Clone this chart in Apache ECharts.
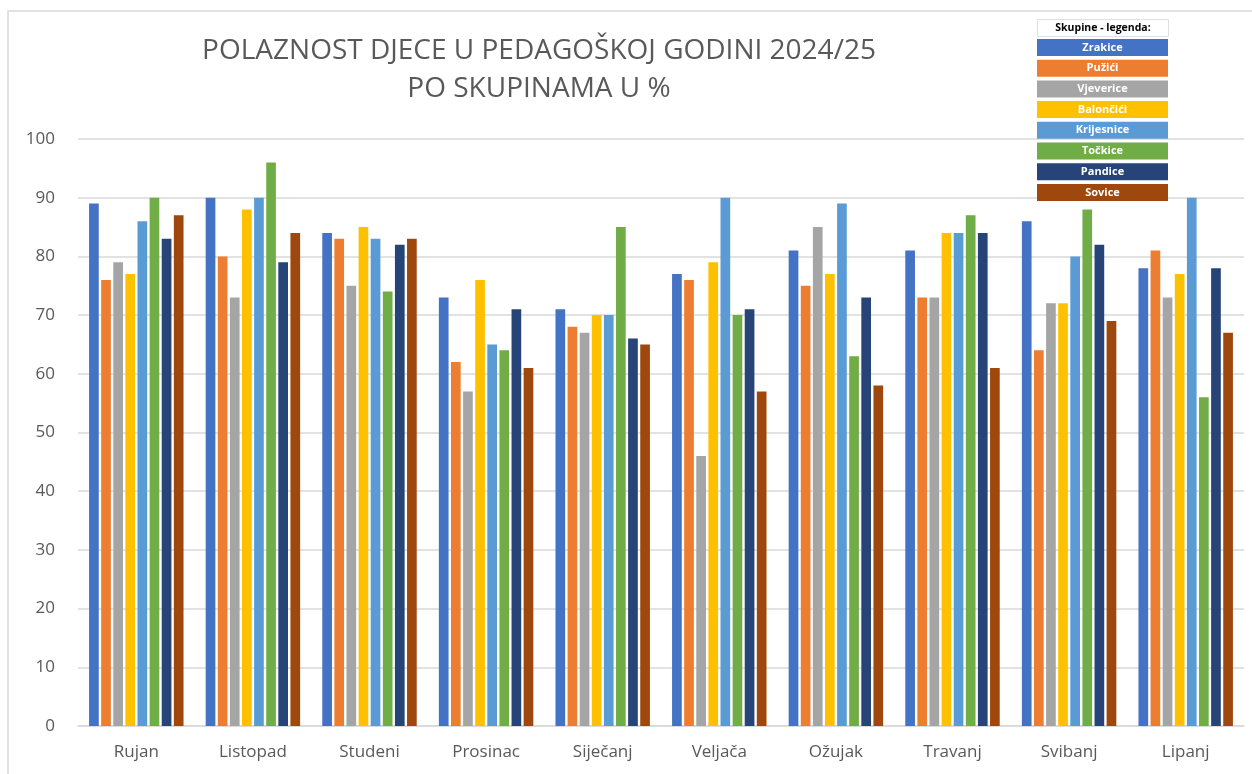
<!DOCTYPE html>
<html>
<head>
    <meta charset="utf-8">
    <title>Polaznost djece 2024/25</title>
    <script src="https://cdnjs.cloudflare.com/ajax/libs/echarts/6.0.0/echarts.min.js"></script>
    <style>
        html, body { margin: 0; padding: 0; background: #fff; }
        #chart { width: 1252px; height: 774px; }
    </style>
</head>
<body>
    <div id="chart"></div>
    <script>
        const months = ['Rujan', 'Listopad', 'Studeni', 'Prosinac', 'Siječanj', 'Veljača', 'Ožujak', 'Travanj', 'Svibanj', 'Lipanj'];
        const groups = ['Zrakice', 'Pužići', 'Vjeverice', 'Balončići', 'Krijesnice', 'Točkice', 'Pandice', 'Sovice'];
        const colors = ['#4472C4', '#ED7D31', '#A5A5A5', '#FFC000', '#5B9BD5', '#70AD47', '#264478', '#9E480E'];

        const zrakice    = [89, 90, 84, 73, 71, 77, 81, 81, 86, 78];
        const puzici     = [76, 80, 83, 62, 68, 76, 75, 73, 64, 81];
        const vjeverice  = [79, 73, 75, 57, 67, 46, 85, 73, 72, 73];
        const baloncici  = [77, 88, 85, 76, 70, 79, 77, 84, 72, 77];
        const krijesnice = [86, 90, 83, 65, 70, 90, 89, 84, 80, 90];
        const tockice    = [90, 96, 74, 64, 85, 70, 63, 87, 88, 56];
        const pandice    = [83, 79, 82, 71, 66, 71, 73, 84, 82, 78];
        const sovice     = [87, 84, 83, 61, 65, 57, 58, 61, 69, 67];

        const values = [zrakice, puzici, vjeverice, baloncici, krijesnice, tockice, pandice, sovice];

        // one rich style per group so each legend label gets its own coloured box
        const legendRich = {};
        groups.forEach((g, i) => {
            legendRich['c' + i] = {
                backgroundColor: colors[i],
                color: '#fff',
                fontWeight: 'bold',
                fontFamily: 'Open Sans',
                fontSize: 11,
                width: 131,
                height: 17,
                lineHeight: 17,
                align: 'center'
            };
        });

        const chart = echarts.init(document.getElementById('chart'));

        chart.setOption({
            animation: false,
            color: colors,
            title: {
                text: 'POLAZNOST DJECE U PEDAGOŠKOJ GODINI 2024/25\nPO SKUPINAMA U %',
                left: 534,
                top: 27,
                textAlign: 'center',
                textStyle: {
                    fontFamily: 'Open Sans',
                    fontWeight: 'normal',
                    fontSize: 28,
                    lineHeight: 38,
                    color: '#595959'
                }
            },
            legend: {
                orient: 'vertical',
                left: 1032,
                top: 39,
                padding: 0,
                itemGap: 3.7,
                itemWidth: 0,
                itemHeight: 0,
                icon: 'none',
                selectedMode: false,
                data: groups,
                formatter: name => '{c' + groups.indexOf(name) + '|' + name + '}',
                textStyle: { rich: legendRich }
            },
            graphic: [
                {
                    type: 'rect',
                    shape: { x: 8, y: 11, width: 1260, height: 790 },
                    style: { fill: 'none', stroke: '#d9d9d9', lineWidth: 1.5 },
                    silent: true
                },
                {
                    type: 'group',
                    left: 1037,
                    top: 19,
                    children: [
                        {
                            type: 'rect',
                            shape: { x: 0, y: 0, width: 131, height: 17 },
                            style: { fill: '#fff', stroke: '#e0e0e0', lineWidth: 1 }
                        },
                        {
                            type: 'text',
                            x: 65.5,
                            y: 9,
                            style: {
                                text: 'Skupine - legenda:',
                                fill: '#000',
                                font: 'bold 10.5px "Open Sans"',
                                align: 'center',
                                verticalAlign: 'middle'
                            }
                        }
                    ]
                }
            ],
            grid: {
                left: 78,
                right: 8,
                top: 139,
                bottom: 48
            },
            xAxis: {
                type: 'category',
                data: months,
                axisTick: { show: false },
                axisLine: { lineStyle: { color: '#d9d9d9', width: 1.5 } },
                axisLabel: {
                    color: '#595959',
                    fontSize: 17,
                    fontFamily: 'Open Sans',
                    margin: 18
                }
            },
            yAxis: {
                type: 'value',
                min: 0,
                max: 100,
                interval: 10,
                axisLine: { show: false },
                axisTick: { show: false },
                axisLabel: {
                    color: '#595959',
                    fontSize: 17,
                    fontFamily: 'Open Sans',
                    margin: 23
                },
                splitLine: { lineStyle: { color: '#d9d9d9', width: 1.5 } }
            },
            series: groups.map((g, i) => ({
                name: g,
                type: 'bar',
                data: values[i],
                barGap: '25%',
                barCategoryGap: '19%',
                itemStyle: { color: colors[i] }
            }))
        });
    </script>
</body>
</html>
